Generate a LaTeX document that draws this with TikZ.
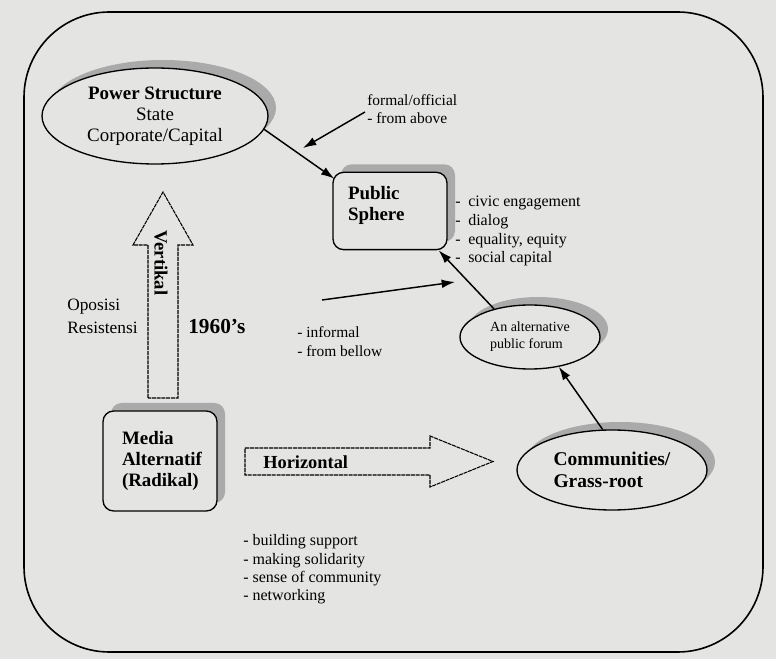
\documentclass[tikz,border=0pt]{standalone}
\usepackage{fontspec}
\setmainfont{Liberation Serif}
\usetikzlibrary{shapes.geometric,shadows,arrows.meta,patterns}
\definecolor{paper}{RGB}{228,228,226}
\definecolor{shade}{RGB}{170,170,170}
\begin{document}
\begin{tikzpicture}[x=0.75pt,y=-0.75pt,
  ln/.style={line width=1pt, draw=black},
  shad/.style={general shadow={fill=shade, shadow xshift=6pt, shadow yshift=6pt}},
  oval/.style={ellipse, ln, fill=paper, shad, inner sep=0pt},
  rbox/.style={rectangle, rounded corners=8pt, ln, fill=paper, shad, inner sep=0pt},
  arr/.style={line width=1.1pt, -{Latex[length=10pt,width=6.5pt]}},
  blk/.style={line width=0.8pt, fill=paper, dash pattern=on 3pt off 0.6pt},
  boldbig/.style={font=\fontsize{14.2}{15.8}\selectfont\bfseries},
  regbig/.style={font=\fontsize{14.2}{15.8}\selectfont},
  midtext/.style={font=\fontsize{13}{17}\selectfont, inner sep=0pt, align=left},
  small/.style={font=\fontsize{11.6}{13.8}\selectfont, inner sep=0pt, align=left},
]
\fill[paper] (0,0) rectangle (776,659);
\useasboundingbox (0,0) rectangle (776,659);
\draw[line width=1.2pt, rounded corners=64pt] (24,12) rectangle (763,652);

% block arrows
\draw[blk] (148,398) -- (148,245) -- (133,245) -- (163,192) -- (193,245) -- (178,245) -- (178,398) -- cycle;
\draw[blk] (245,448) -- (430,448) -- (430,436) -- (493,461.5) -- (430,487) -- (430,475) -- (245,475) -- cycle;

% main nodes
\node[oval, regbig, minimum width=169.5pt, minimum height=72pt, align=center] (power) at (155,116)
  {\textbf{Power Structure}\\State\\Corporate/Capital};
\node[rbox, boldbig, minimum width=85.5pt, minimum height=58pt, text width=63pt, inner xsep=11.25pt, align=left] (public) at (390,211)
  {Public\\Sphere\\[-4pt]\mbox{}};
\node[rbox, boldbig, minimum width=85.5pt, minimum height=75pt, text width=57pt, inner xsep=14.25pt, align=left] (media) at (160,461)
  {Media\\Alternatif\\(Radikal)};
\node[oval, font=\fontsize{10.5}{12.75}\selectfont, minimum width=105pt, minimum height=48pt, align=left] (forum) at (530,337)
  {An alternative\\public forum};
\node[oval, font=\fontsize{14.6}{16.5}\selectfont\bfseries, minimum width=142.5pt, minimum height=60pt, align=left] (comm) at (612,470)
  {Communities/\\Grass-root};

% labels
\node[small, anchor=west] (formal) at (367,109) {formal/official\\- from above};
\node[small, anchor=west, font=\fontsize{12}{14.2}\selectfont] (civic) at (455,231)
  {\makebox[9.75pt][l]{-}civic engagement\\\makebox[9.75pt][l]{-}dialog\\\makebox[9.75pt][l]{-}equality, equity\\\makebox[9.75pt][l]{-}social capital};
\node[small, anchor=west] (informal) at (297,341.5) {- informal\\- from bellow};
\node[midtext, anchor=west] (opos) at (67,316.5) {Oposisi\\Resistensi};
\node[anchor=west, inner sep=0pt, font=\fontsize{16}{18}\selectfont\bfseries] (year) at (188,327) {1960’s};
\node[rotate=-90, inner sep=0pt, font=\fontsize{14}{16}\selectfont\bfseries] (vert) at (161,263) {Vertikal};
\node[anchor=west, inner sep=0pt, font=\fontsize{13.8}{16}\selectfont\bfseries] (horiz) at (263,462) {Horizontal};
\node[small, anchor=west, font=\fontsize{12}{13.8}\selectfont] (build) at (243,569.5)
  {- building support\\- making solidarity\\- sense of community\\- networking};

% connectors
\coordinate (fa) at (365,112);
\coordinate (fb) at (303,148);
\coordinate (ia) at (322,300);
\coordinate (ib) at (455,282);
\draw[arr] (power.-7) -- ([shift={(2,7)}]public.north west);
\draw[arr] (fa) -- (fb);
\draw[arr] (ia) -- (ib);
\draw[arr] (forum.142) -- ([shift={(-9,0)}]public.south east);
\draw[arr] (comm.103) -- (forum.-46);
\end{tikzpicture}
\end{document}
